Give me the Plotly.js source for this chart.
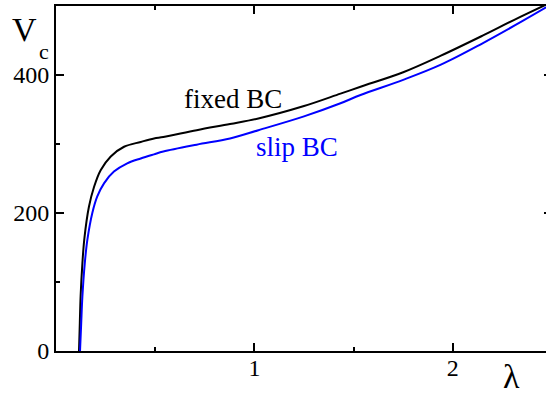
<!DOCTYPE html>
<html>
<head>
<meta charset="utf-8">
<script src="https://cdn.plot.ly/plotly-3.0.1.min.js"></script>
<style>
html,body{margin:0;padding:0;overflow:hidden;background:#fff;}
#chart{width:552px;height:396px;}
</style>
</head>
<body>
<div id="chart"></div>
<script>
// fixed BC curve (lambda, Vc)
const fixedX = [0.116,0.12,0.124,0.133,0.143,0.166,0.192,0.225,0.276,0.343,0.427,0.494,0.541,0.709,0.877,1.02,1.25,1.434,1.535,1.75,1.94,2.15,2.31,2.5];
const fixedY = [0,40,79,127,163,209,238,262,282,296,303,308,310,320,329,337,355,373,383,404,428,457,480,506];
// slip BC curve
const slipX = [0.121,0.127,0.133,0.145,0.158,0.183,0.208,0.242,0.292,0.359,0.427,0.494,0.541,0.709,0.877,1.02,1.25,1.434,1.535,1.75,1.94,2.15,2.35,2.5];
const slipY = [0,40,79,127,161,200,224,243,260,272,279,285,289,299,308,320,340,359,371,393,415,446,478,503];
const xTickVals = [1,2];
const xTickText = ['1','2'];
const yTickVals = [0,200,400];
const yTickText = ['0','200','400'];

const serif = 'Liberation Serif';

const traces = [
  {x: fixedX, y: fixedY, mode:'lines', line:{color:'#000000', width:2, shape:'spline', smoothing:1}, hoverinfo:'skip'},
  {x: slipX, y: slipY, mode:'lines', line:{color:'#0000ff', width:2, shape:'spline', smoothing:1}, hoverinfo:'skip'}
];

const layout = {
  width:552, height:396,
  margin:{l:56, r:0, t:6, b:45},
  paper_bgcolor:'#fff', plot_bgcolor:'#fff',
  showlegend:false,
  font:{family:serif, size:24, color:'#000'},
  xaxis: {
    showgrid:false, zeroline:false, showline:true, linecolor:'#000', linewidth:2,
    ticks:'inside', ticklen:8, tickwidth:2, tickcolor:'#000', mirror:'ticks',
    tickfont:{family:serif, size:24, color:'#000'}, ticklabelstandoff:-6,
    range:[0,2.5], tickmode:'array', tickvals:xTickVals, ticktext:xTickText,
    minor:{dtick:0.5, tick0:0, ticks:'inside', ticklen:4, tickwidth:2, tickcolor:'#000', showgrid:false}
  },
  yaxis: {
    showgrid:false, zeroline:false, showline:true, linecolor:'#000', linewidth:2,
    ticks:'inside', ticklen:8, tickwidth:2, tickcolor:'#000', mirror:'ticks',
    tickfont:{family:serif, size:24, color:'#000'},
    range:[0,500], tickmode:'array', tickvals:yTickVals, ticktext:yTickText,
    minor:{dtick:100, tick0:0, ticks:'inside', ticklen:4, tickwidth:2, tickcolor:'#000', showgrid:false}
  },
  annotations:[
    {text:'fixed BC', xref:'x', yref:'y', x:0.89, y:365, xanchor:'center', yanchor:'middle', showarrow:false, font:{family:serif, size:27, color:'#000'}},
    {text:'slip BC', xref:'x', yref:'y', x:1.217, y:296, xanchor:'center', yanchor:'middle', showarrow:false, font:{family:serif, size:27, color:'#0000ff'}},
    {text:'V', xref:'paper', yref:'paper', x:-0.0927, y:0.992, xanchor:'left', yanchor:'top', showarrow:false, font:{family:serif, size:34, color:'#000'}},
    {text:'c', xref:'paper', yref:'paper', x:-0.0393, y:0.909, xanchor:'left', yanchor:'top', showarrow:false, font:{family:serif, size:22, color:'#000'}},
    {text:'λ', xref:'paper', yref:'paper', x:0.919, y:-0.075, xanchor:'center', yanchor:'middle', showarrow:false, font:{family:serif, size:34, color:'#000'}}
  ]
};

Plotly.newPlot('chart', traces, layout, {displayModeBar:false, staticPlot:true});
</script>
</body>
</html>
